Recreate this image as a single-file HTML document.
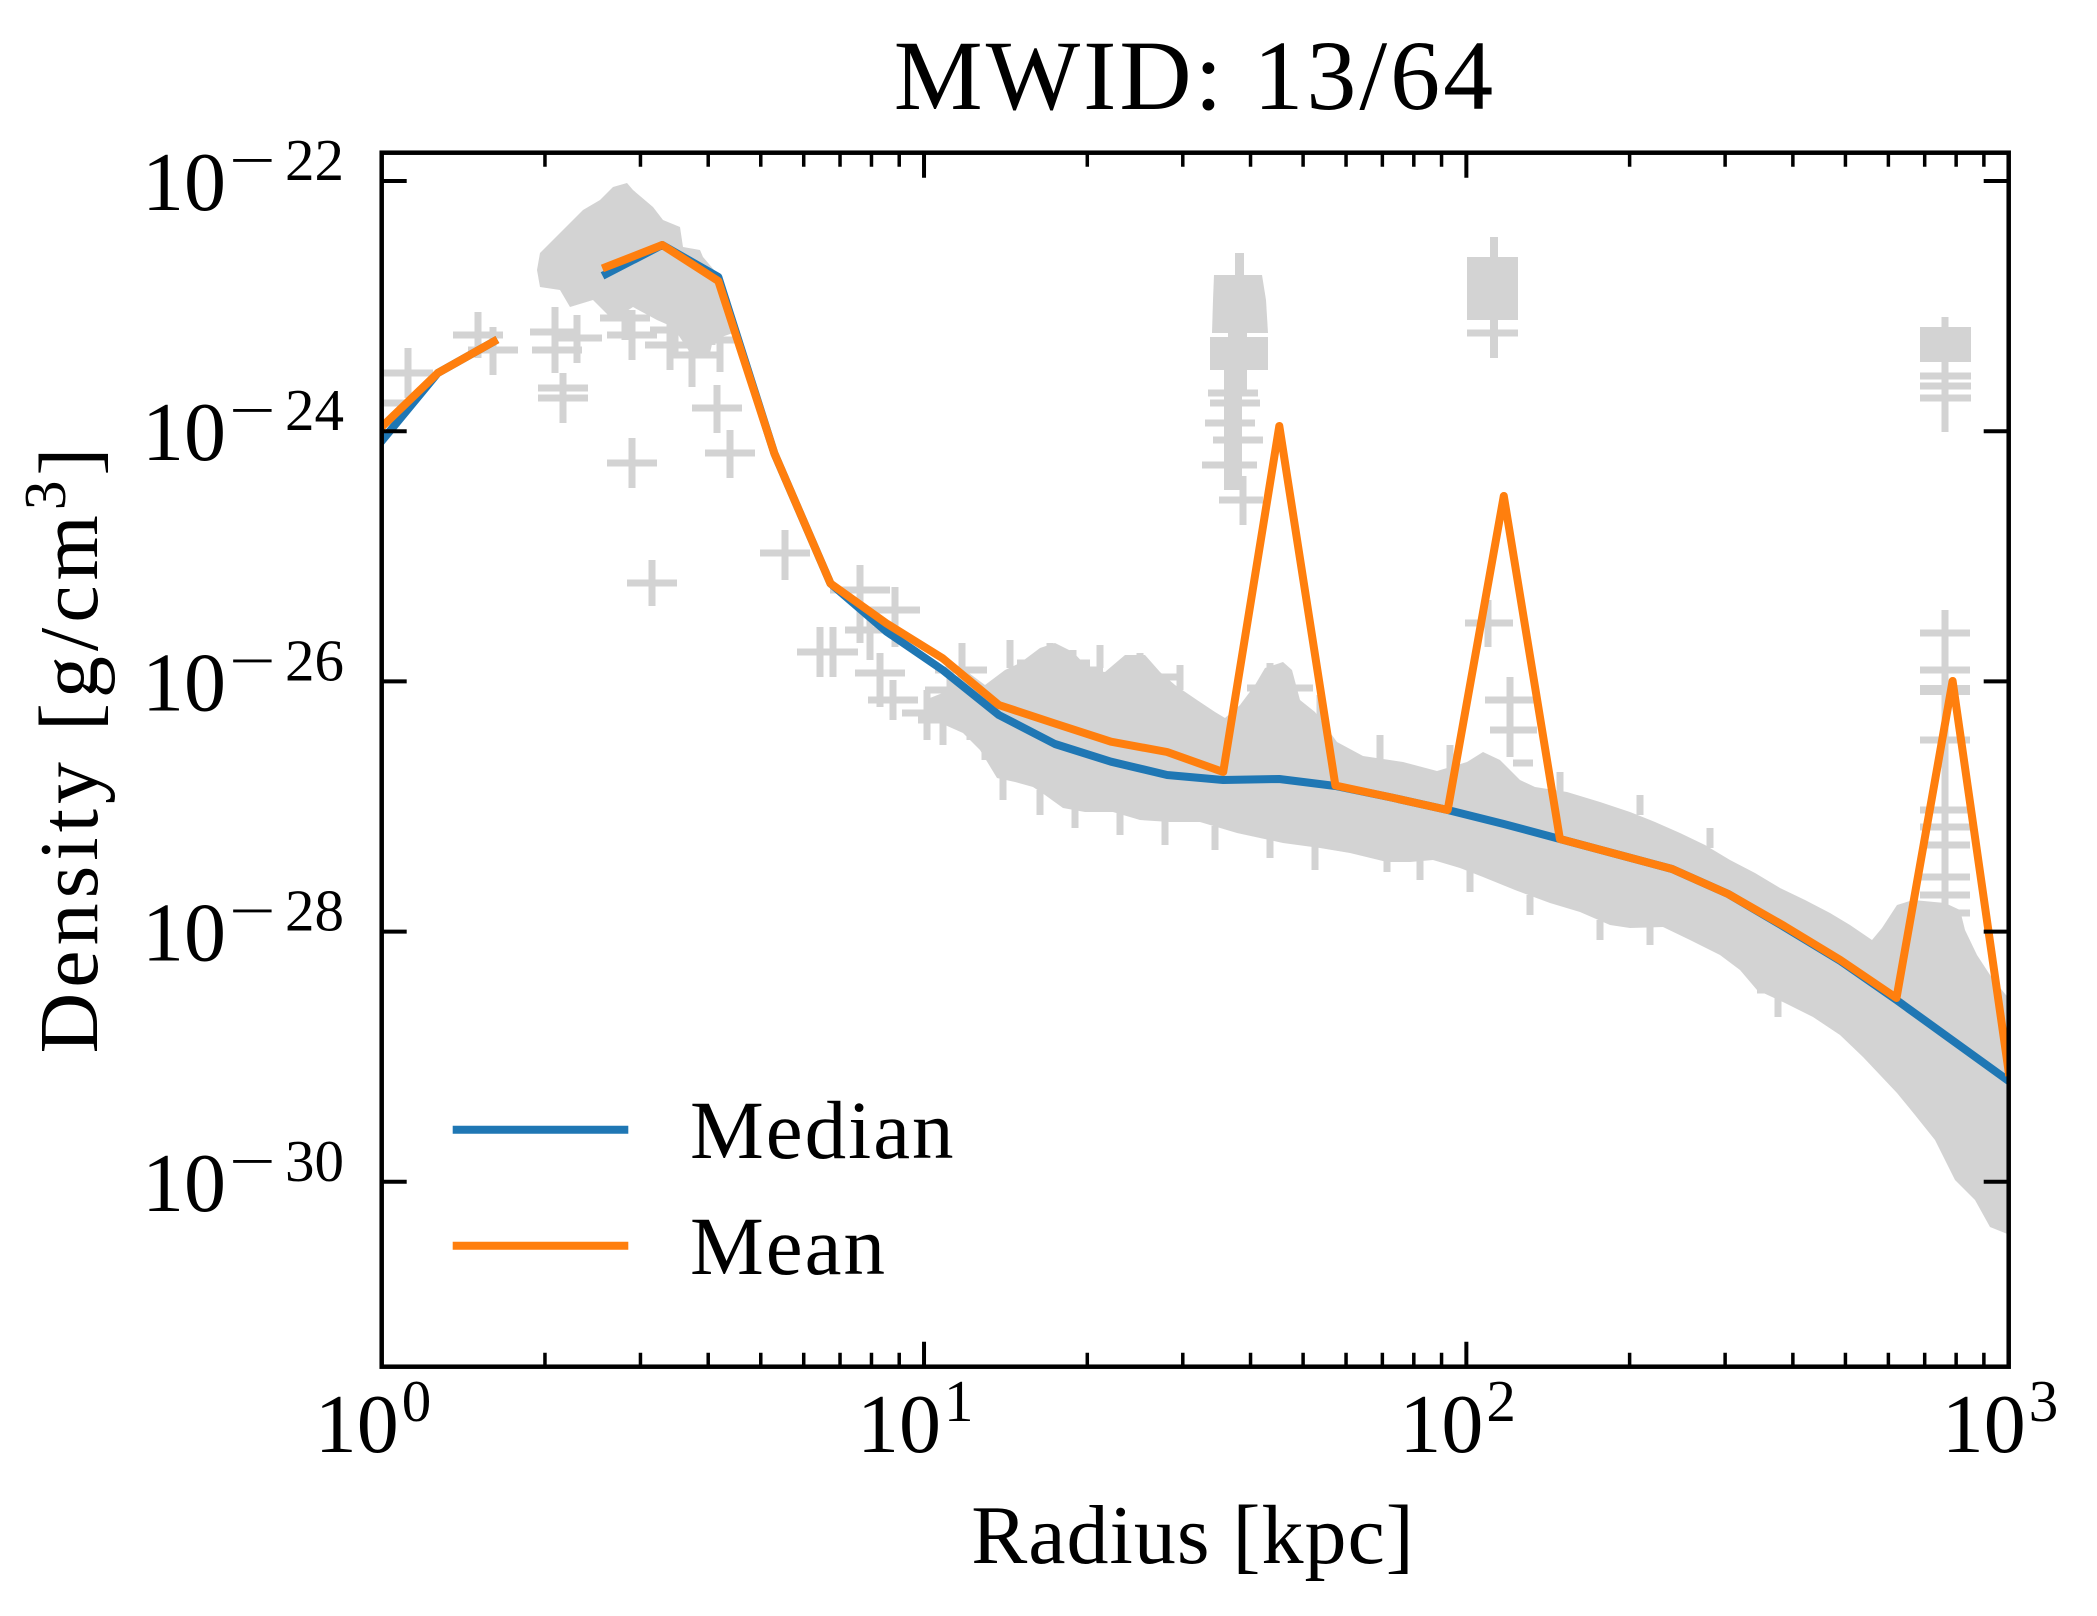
<!DOCTYPE html>
<html>
<head>
<meta charset="utf-8">
<style>
  html, body { margin: 0; padding: 0; background: #ffffff; }
  svg { display: block; }
  text { font-family: "Liberation Serif", "DejaVu Serif", serif; fill: #000; }
</style>
</head>
<body>
<svg width="2097" height="1616" viewBox="0 0 2097 1616" xmlns="http://www.w3.org/2000/svg">
  <rect x="0" y="0" width="2097" height="1616" fill="#ffffff"/>
  <defs>
    <clipPath id="plotclip">
      <rect x="381.7" y="152.7" width="1627" height="1214"/>
    </clipPath>
  </defs>

  <!-- Title -->
  <text x="1195" y="109" font-size="100" text-anchor="middle" letter-spacing="3">MWID: 13/64</text>

  <g clip-path="url(#plotclip)">
    <!-- Scatter: dense regions -->
    <g fill="#d3d3d3" stroke="none">
      <polygon points="540,253 563,230 583,210 600,200 613,187 627,183 633,190 653,207 663,220 680,227 683,247 700,250 703,257 720,277 730,300 733,333 713,340 710,353 693,357 673,327 657,320 633,307 613,320 593,300 570,307 560,290 540,287 537,270"/>
      <polygon points="925,700 950,690 962,668 985,685 1005,670 1020,663 1040,648 1055,643 1073,652 1090,670 1105,672 1125,655 1145,655 1160,672 1175,685 1197,700 1215,712 1225,718 1240,705 1255,685 1265,668 1283,662 1292,670 1300,700 1315,712 1337,742 1363,756 1403,762 1437,771 1467,762 1483,752 1500,760 1520,780 1535,787 1567,792 1600,802 1630,812 1655,822 1680,833 1705,845 1730,860 1755,873 1780,888 1805,900 1830,913 1850,925 1872,940 1882,928 1897,905 1913,900 1945,903 1960,910 1965,930 1977,955 1992,978 2010,1000 2010,1235 1990,1227 1975,1200 1955,1180 1935,1140 1915,1115 1897,1093 1880,1075 1863,1057 1840,1035 1813,1017 1785,1003 1757,990 1740,970 1720,955 1690,940 1663,927 1630,928 1610,925 1580,912 1550,903 1515,890 1483,877 1460,868 1433,860 1410,862 1387,862 1350,853 1320,848 1283,843 1260,838 1237,833 1200,822 1170,822 1140,820 1113,812 1085,812 1063,808 1045,795 1033,787 1015,782 997,778 980,750 963,733 945,725 925,715"/>
      <!-- 40 kpc column -->
      <rect x="1235" y="253" width="9" height="25"/>
      <polygon points="1214,275 1262,275 1266,300 1268,333 1212,333 1213,300"/>
      <rect x="1210" y="337" width="58" height="33"/>
      <rect x="1228" y="330" width="19" height="62"/>
      <rect x="1224" y="370" width="18" height="120"/>
      <!-- 110 kpc column -->
      <rect x="1490" y="237" width="8" height="22"/>
      <rect x="1467" y="257" width="51" height="63"/>
      <rect x="1490" y="318" width="8" height="40"/>
      <!-- 800 kpc column -->
      <rect x="1920" y="327" width="51" height="35"/>
      <rect x="1920" y="685" width="50" height="10"/>
    </g>
    <!-- Scatter: individual error-bar crosses -->
    <path fill="none" stroke="#d3d3d3" stroke-width="7" d="
      M383,373h50 M408,348V398
      M381,403h24
      M453,335h50 M478,312V358
      M468,350h50 M493,327V375
      M530,332h50 M555,307V373
      M552,338h50 M577,315V363
      M532,350h50
      M538,388h50 M538,398h50 M563,373V423
      M607,335h50 M632,310V360
      M645,345h50 M670,320V370
      M667,355h50 M692,333V387
      M692,408h50 M717,385V433
      M705,453h50 M730,430V478
      M607,463h50 M632,438V488
      M627,583h50 M652,560V606
      M600,318h50 M625,300V340
      M650,330h50 M675,310V352
      M690,320h45 M712,300V345
      M700,340h40 M720,330V372
      M760,553h50 M785,530V580
      M830,590h60 M860,565V643
      M870,610h50 M895,587V647
      M797,652h61 M820,627V677 M833,627V677
      M855,673h50 M880,653V707
      M868,700h50 M893,680V720
      M902,713h50 M927,690V740
      M935,670h52 M962,643V693
      M918,720h50 M943,700V745
      M845,630h50 M870,610V660
      M925,690h50 M950,670V720
      M945,700h50 M970,680V740
      M960,725h45 M985,705V760
      M1017,663h73 M1050,643V690
      M1113,677h64 M1140,653V700
      M1057,670h46 M1073,650V700
      M1247,688h66 M1270,663V720
      M1208,393h50 M1210,403h50 M1205,423h50 M1213,440h50 M1202,465h55
      M1219,500h44 M1243,476V525
      M1467,333h51
      M1465,623h48 M1488,600V647
      M1510,677V757 M1485,700h50 M1490,730h47 M1513,763h20
      M1945,317V432
      M1920,376h51 M1920,386h51 M1920,398h51
      M1945,610V960
      M1920,633h50 M1920,670h50 M1920,740h50 M1920,810h50 M1920,827h50 M1920,845h50 M1920,877h50 M1920,895h50 M1920,913h50
      M1757,990h44 M1778,970V1017
      M1363,850h42 M1387,843V872
      M1003,775V800 M1040,790V815 M1075,805V828 M1120,810V835 M1165,818V845 M1215,826V850 M1270,838V858 M1315,845V870 M1420,858V880 M1470,870V892 M1530,895V915 M1600,920V940 M1650,925V945
      M1010,668V640 M1100,668V645 M1180,690V665 M1320,720V695 M1380,760V735 M1450,770V745 M1560,792V772 M1640,815V795 M1710,848V828
    "/>

    <!-- Median (blue) -->
    <g fill="none" stroke="#1f77b4" stroke-width="8" stroke-linejoin="round" stroke-linecap="square">
      <path d="M381.7,441 L437.8,373 L493.9,341.5"/>
      <path d="M606.1,274 L662.2,245 L718.3,277 L774.4,453.5 L830.5,583.5 L886.6,631.7 L942.7,670 L998.8,715 L1054.9,744 L1111.0,761.7 L1167.1,775 L1223.2,780 L1279.3,779 L1335.4,786 L1391.5,797.5 L1447.7,810 L1503.8,824 L1559.9,839 L1616.0,854 L1672.1,869 L1728.2,894 L1784.3,927 L1840.4,961 L1896.5,1000 L1952.6,1040.5 L2008.7,1081"/>
    </g>
    <!-- Mean (orange) -->
    <g fill="none" stroke="#ff7f0e" stroke-width="8" stroke-linejoin="round" stroke-linecap="square">
      <path d="M381.7,427 L437.8,373 L493.9,341.5"/>
      <path d="M606.1,267 L662.2,245 L718.3,281 L774.4,453.5 L830.5,583.5 L886.6,623.5 L942.7,658.3 L998.8,705 L1054.9,723.5 L1111.0,741.7 L1167.1,752 L1223.2,772 L1279.3,426 L1335.4,785.5 L1391.5,797.5 L1447.7,810 L1503.8,496 L1559.9,839 L1616.0,854 L1672.1,869 L1728.2,894 L1784.3,926 L1840.4,960 L1896.5,998 L1952.6,681 L2008.7,1072"/>
    </g>
  </g>

  <!-- Axes frame -->
  <rect x="381.7" y="152.7" width="1627" height="1214" fill="none" stroke="#000" stroke-width="4.5"/>

  <!-- Major ticks -->
  <path fill="none" stroke="#000" stroke-width="4" d="
    M924.03,1366.7V1341.7 M1466.36,1366.7V1341.7
    M924.03,152.7V177.7 M1466.36,152.7V177.7
    M381.7,181H406.7 M381.7,431.2H406.7 M381.7,681.4H406.7 M381.7,931.6H406.7 M381.7,1181.8H406.7
    M2008.7,181H1983.7 M2008.7,431.2H1983.7 M2008.7,681.4H1983.7 M2008.7,931.6H1983.7 M2008.7,1181.8H1983.7
  "/>
  <!-- Minor ticks -->
  <path fill="none" stroke="#000" stroke-width="3.5" d="
    M544.96,1366.7V1352.7 M640.46,1366.7V1352.7 M708.21,1366.7V1352.7 M760.77,1366.7V1352.7 M803.72,1366.7V1352.7 M840.03,1366.7V1352.7 M871.48,1366.7V1352.7 M899.22,1366.7V1352.7
    M1087.29,1366.7V1352.7 M1182.79,1366.7V1352.7 M1250.54,1366.7V1352.7 M1303.10,1366.7V1352.7 M1346.05,1366.7V1352.7 M1382.36,1366.7V1352.7 M1413.81,1366.7V1352.7 M1441.55,1366.7V1352.7
    M1629.62,1366.7V1352.7 M1725.12,1366.7V1352.7 M1792.87,1366.7V1352.7 M1845.43,1366.7V1352.7 M1888.38,1366.7V1352.7 M1924.69,1366.7V1352.7 M1956.14,1366.7V1352.7 M1983.88,1366.7V1352.7
    M544.96,152.7V166.7 M640.46,152.7V166.7 M708.21,152.7V166.7 M760.77,152.7V166.7 M803.72,152.7V166.7 M840.03,152.7V166.7 M871.48,152.7V166.7 M899.22,152.7V166.7
    M1087.29,152.7V166.7 M1182.79,152.7V166.7 M1250.54,152.7V166.7 M1303.10,152.7V166.7 M1346.05,152.7V166.7 M1382.36,152.7V166.7 M1413.81,152.7V166.7 M1441.55,152.7V166.7
    M1629.62,152.7V166.7 M1725.12,152.7V166.7 M1792.87,152.7V166.7 M1845.43,152.7V166.7 M1888.38,152.7V166.7 M1924.69,152.7V166.7 M1956.14,152.7V166.7 M1983.88,152.7V166.7
  "/>

  <!-- X tick labels -->
  <g font-size="84">
    <text x="314.7" y="1452">10</text>
    <text x="857.0" y="1452">10</text>
    <text x="1399.4" y="1452">10</text>
    <text x="1941.7" y="1452">10</text>
  </g>
  <g font-size="59">
    <text x="401.7" y="1421">0</text>
    <text x="944.0" y="1421">1</text>
    <text x="1486.4" y="1421">2</text>
    <text x="2028.7" y="1421">3</text>
  </g>

  <!-- Y tick labels -->
  <g font-size="84">
    <text x="142" y="210">10</text>
    <text x="142" y="460.2">10</text>
    <text x="142" y="710.4">10</text>
    <text x="142" y="960.6">10</text>
    <text x="142" y="1210.8">10</text>
  </g>
  <g font-size="59">
    <text transform="translate(229,180) scale(1.4,1)">−</text>
    <text x="285" y="180">22</text>
    <text transform="translate(229,430.2) scale(1.4,1)">−</text>
    <text x="285" y="430.2">24</text>
    <text transform="translate(229,680.4) scale(1.4,1)">−</text>
    <text x="285" y="680.4">26</text>
    <text transform="translate(229,930.6) scale(1.4,1)">−</text>
    <text x="285" y="930.6">28</text>
    <text transform="translate(229,1180.8) scale(1.4,1)">−</text>
    <text x="285" y="1180.8">30</text>
  </g>

  <!-- Axis labels -->
  <text x="1193" y="1563" font-size="84" text-anchor="middle" letter-spacing="1">Radius [kpc]</text>
  <text transform="translate(97,748) rotate(-90)" font-size="84" text-anchor="middle" letter-spacing="5">Density [g/cm<tspan dy="-32" font-size="59">3</tspan><tspan dy="32">]</tspan></text>

  <!-- Legend -->
  <line x1="452.7" y1="1129.7" x2="628.3" y2="1129.7" stroke="#1f77b4" stroke-width="8"/>
  <line x1="452.7" y1="1245.7" x2="628.3" y2="1245.7" stroke="#ff7f0e" stroke-width="8"/>
  <text x="690" y="1158" font-size="83" letter-spacing="2">Median</text>
  <text x="690" y="1274" font-size="83" letter-spacing="2">Mean</text>
</svg>
</body>
</html>
